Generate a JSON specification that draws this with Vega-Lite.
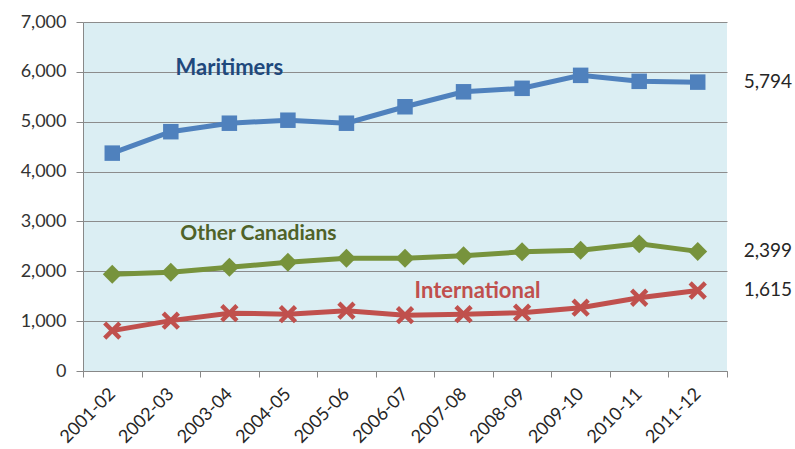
{
  "$schema": "https://vega.github.io/schema/vega-lite/v6.json",
  "autosize": {"type": "none"},
  "width": 644,
  "height": 349,
  "padding": {"left": 83, "top": 22, "right": 68, "bottom": 78},
  "background": "white",
  "config": {
    "view": {"fill": "#DBEEF3", "stroke": null},
    "font": "Lato"
  },
  "datasets": {
    "series": [
      {"period": "2001-02", "group": "Maritimers", "value": 4370},
      {"period": "2002-03", "group": "Maritimers", "value": 4800},
      {"period": "2003-04", "group": "Maritimers", "value": 4970},
      {"period": "2004-05", "group": "Maritimers", "value": 5030},
      {"period": "2005-06", "group": "Maritimers", "value": 4970},
      {"period": "2006-07", "group": "Maritimers", "value": 5300},
      {"period": "2007-08", "group": "Maritimers", "value": 5600},
      {"period": "2008-09", "group": "Maritimers", "value": 5670},
      {"period": "2009-10", "group": "Maritimers", "value": 5930},
      {"period": "2010-11", "group": "Maritimers", "value": 5810},
      {"period": "2011-12", "group": "Maritimers", "value": 5794},
      {"period": "2001-02", "group": "Other Canadians", "value": 1940},
      {"period": "2002-03", "group": "Other Canadians", "value": 1980},
      {"period": "2003-04", "group": "Other Canadians", "value": 2080},
      {"period": "2004-05", "group": "Other Canadians", "value": 2180},
      {"period": "2005-06", "group": "Other Canadians", "value": 2260},
      {"period": "2006-07", "group": "Other Canadians", "value": 2260},
      {"period": "2007-08", "group": "Other Canadians", "value": 2310},
      {"period": "2008-09", "group": "Other Canadians", "value": 2390},
      {"period": "2009-10", "group": "Other Canadians", "value": 2420},
      {"period": "2010-11", "group": "Other Canadians", "value": 2550},
      {"period": "2011-12", "group": "Other Canadians", "value": 2399},
      {"period": "2001-02", "group": "International", "value": 810},
      {"period": "2002-03", "group": "International", "value": 1010},
      {"period": "2003-04", "group": "International", "value": 1160},
      {"period": "2004-05", "group": "International", "value": 1140},
      {"period": "2005-06", "group": "International", "value": 1210},
      {"period": "2006-07", "group": "International", "value": 1120},
      {"period": "2007-08", "group": "International", "value": 1140},
      {"period": "2008-09", "group": "International", "value": 1170},
      {"period": "2009-10", "group": "International", "value": 1270},
      {"period": "2010-11", "group": "International", "value": 1470},
      {"period": "2011-12", "group": "International", "value": 1615}
    ],
    "names": [
      {"period": "2003-04", "group": "Maritimers", "value": 6080},
      {"period": "2003-04", "group": "Other Canadians", "value": 2750},
      {"period": "2007-08", "group": "International", "value": 1600}
    ]
  },
  "encoding": {
    "x": {
      "field": "period", "type": "ordinal", "bandPosition": 0.5,
      "scale": {"type": "band", "paddingInner": 0, "paddingOuter": 0},
      "axis": {
        "title": null, "labelAngle": -45, "labelAlign": "right", "labelBaseline": "middle",
        "labelFontSize": 18, "labelColor": "#262626", "labelPadding": 14,
        "tickBand": "extent", "tickSize": 6, "tickColor": "#888888",
        "domainColor": "#888888", "grid": false, "labelFont": "Lato"
      }
    },
    "y": {
      "field": "value", "type": "quantitative",
      "scale": {"domain": [0, 7000], "nice": false},
      "axis": {
        "title": null, "values": [0, 1000, 2000, 3000, 4000, 5000, 6000, 7000],
        "format": ",.0f", "labelFontSize": 18, "labelColor": "#333333", "labelPadding": 10,
        "tickSize": 7, "tickColor": "#888888", "domainColor": "#888888",
        "gridColor": "#8C8C8C", "gridWidth": 1.2, "labelFont": "Lato"
      }
    }
  },
  "layer": [
    {
      "data": {"name": "series"},
      "mark": {"type": "line", "strokeWidth": 5},
      "encoding": {
        "color": {"field": "group", "type": "nominal", "legend": null,
          "scale": {"domain": ["Maritimers", "Other Canadians", "International"], "range": ["#4F81BD", "#77933C", "#C0504D"]}}
      }
    },
    {
      "data": {"name": "series"},
      "transform": [{"filter": "datum.group === 'Maritimers'"}],
      "mark": {"type": "point", "shape": "square", "filled": true, "size": 240, "color": "#4F81BD", "opacity": 1}
    },
    {
      "data": {"name": "series"},
      "transform": [{"filter": "datum.group === 'Other Canadians'"}],
      "mark": {"type": "point", "shape": "diamond", "filled": true, "size": 360, "color": "#77933C", "opacity": 1}
    },
    {
      "data": {"name": "series"},
      "transform": [{"filter": "datum.group === 'International'"}],
      "mark": {"type": "point", "shape": "M-1,-1L1,1M1,-1L-1,1", "filled": false, "size": 230, "strokeWidth": 4.5, "color": "#C0504D", "opacity": 1}
    },
    {
      "data": {"name": "series"},
      "transform": [{"filter": "datum.period === '2011-12'"}],
      "mark": {"type": "text", "align": "left", "baseline": "middle", "dx": 46, "fontSize": 19, "color": "#262626"},
      "encoding": {
        "text": {"field": "value", "type": "quantitative", "format": ","}
      }
    },
    {
      "data": {"name": "names"},
      "transform": [{"filter": "datum.group === 'Maritimers'"}],
      "mark": {"type": "text", "align": "center", "baseline": "middle", "fontSize": 22, "fontWeight": "bold", "color": "#1F497D"},
      "encoding": {"text": {"field": "group"}}
    },
    {
      "data": {"name": "names"},
      "transform": [{"filter": "datum.group === 'Other Canadians'"}],
      "mark": {"type": "text", "align": "center", "baseline": "middle", "dx": 29, "fontSize": 21, "fontWeight": "bold", "color": "#4F6228"},
      "encoding": {"text": {"field": "group"}}
    },
    {
      "data": {"name": "names"},
      "transform": [{"filter": "datum.group === 'International'"}],
      "mark": {"type": "text", "align": "center", "baseline": "middle", "dx": 14, "fontSize": 22, "fontWeight": "bold", "color": "#C0504D"},
      "encoding": {"text": {"field": "group"}}
    }
  ]
}
